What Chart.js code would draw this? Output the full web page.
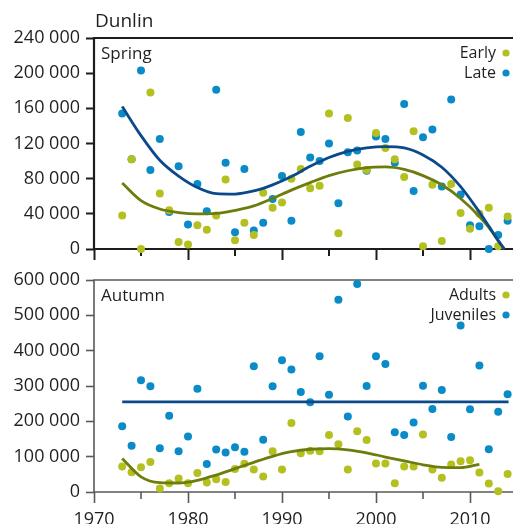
<!DOCTYPE html>
<html>
<head>
<meta charset="utf-8">
<script src="https://cdn.jsdelivr.net/npm/chart.js@4.4.1/dist/chart.umd.min.js"></script>
<style>
  html, body { margin: 0; padding: 0; background: #fff; overflow: hidden; }
  #wrap { position: relative; width: 513px; height: 524px; overflow: hidden; }
  canvas { position: absolute; left: 0; }
  #spring { top: 0; }
  #autumn { top: 262px; }
</style>
</head>
<body>
<div id="wrap">
  <canvas id="spring" width="560" height="269"></canvas>
  <canvas id="autumn" width="560" height="271"></canvas>
</div>
<script>
// survey years
var years = [1973, 1974, 1975, 1976, 1977, 1978, 1979, 1980, 1981, 1982, 1983, 1984, 1985, 1986,
             1987, 1988, 1989, 1990, 1991, 1992, 1993, 1994, 1995, 1996, 1997, 1998, 1999, 2000,
             2001, 2002, 2003, 2004, 2005, 2006, 2007, 2008, 2009, 2010, 2011, 2012, 2013, 2014];

// spring counts
var springEarly = [38000, 102000, 0, 178000, 63000, 44000, 8000, 5000, 27000, 22000, 38000, 79000, 10000, 30000,
                   16000, 64000, 47000, 53000, 80000, 91000, 69000, 72000, 154000, 18000, 149000, 96000, 90000, 132000,
                   115000, 102000, 82000, 134000, 3000, 73000, 9000, 74000, 41000, 23000, 40000, 47000, 3000, 37000];
var springLate = [154000, 102000, 203000, 90000, 125000, 42000, 94000, 28000, 74000, 43000, 181000, 98000, 19000, 91000,
                  21000, 30000, 57000, 83000, 32000, 133000, 104000, 100000, 120000, 52000, 110000, 112000, 89000, 128000,
                  125000, 98000, 165000, 66000, 127000, 136000, 71000, 170000, 62000, 27000, 26000, 0, 16000, 32000];

// autumn counts
var autumnAdults = [72000, 56000, 70000, 85000, 10000, 25000, 38000, 25000, 54000, 27000, 36000, 28000, 65000, 80000,
                    64000, 44000, 115000, 64000, 195000, 110000, 117000, 115000, 161000, 135000, 64000, 172000, 147000, 81000,
                    81000, 25000, 72000, 72000, 163000, 64000, 40000, 78000, 87000, 90000, 55000, 24000, 2000, 51000];
var autumnJuveniles = [186000, 131000, 316000, 299000, 124000, 216000, 115000, 157000, 292000, 79000, 120000, 112000, 127000, 114000,
                       356000, 148000, 299000, 373000, 347000, 283000, 254000, 384000, 275000, 544000, 214000, 589000, 300000, 384000,
                       362000, 169000, 161000, 197000, 301000, 235000, 289000, 156000, 471000, 234000, 358000, 121000, 227000, 277000];

// fitted trends
var springFitYears = [1973, 1975, 1977, 1979, 1981, 1983, 1985, 1987, 1989, 1991, 1993, 1995,
                      1997, 1999, 2001, 2003, 2005, 2007, 2009, 2011, 2012, 2013, 2013.65];
var springLateFit = [162000, 129000, 101000, 83000, 70000, 63000, 62500, 66000, 73000, 82500, 94000, 104000,
                     111000, 115000, 116500, 115000, 107000, 93000, 71000, 42000, 26000, 9500, 0];
var springEarlyFit = [75000, 55000, 45500, 41500, 40000, 40500, 44000, 49000, 57500, 67000, 75500, 83500,
                      89000, 92500, 93300, 90500, 83500, 73000, 57500, 37000, 24500, 9500, 0];
var adultFitYears = [1973, 1975, 1977, 1979, 1981, 1983, 1985, 1987, 1989, 1991, 1993, 1995,
                     1997, 1999, 2001, 2003, 2005, 2007, 2009, 2011];
var adultFit = [95000, 43000, 26500, 25500, 33000, 48000, 66000, 84000, 101000, 114000, 121000, 123000,
                119500, 111000, 99000, 88000, 77000, 69500, 69000, 78500];
var juvenileMeanYears = [1973, 2014.1];
var juvenileMean = [255000, 255000];

var decadeTicks = [1970, 1980, 1990, 2000, 2010];

var ink = '#231f20';
var green = '#b4c01f';
var blue = '#0a8bc7';
var olive = '#6d7d0c';
var navy = '#0b4a8a';

Chart.defaults.font.family = "'Open Sans', sans-serif";
Chart.defaults.font.size = 18;
Chart.defaults.color = ink;

function pairs(xs, ys) {
    return xs.map(function (x, i) { return { x: x, y: ys[i] }; });
}

function spaced(v) {
    return String(v).replace(/\B(?=(\d{3})+(?!\d))/g, ' ');
}

// frame, five-year ticks, panel name and legend
var panelDecor = {
    id: 'panelDecor',
    beforeDatasetsDraw: function (chart, args, o) {
        var ctx = chart.ctx, a = chart.chartArea, x = chart.scales.x;
        ctx.save();
        ctx.strokeStyle = o.frameColor;
        ctx.lineWidth = o.frameWidth;
        ctx.beginPath();
        ctx.moveTo(chart.width, a.top);
        ctx.lineTo(a.left, a.top);
        ctx.lineTo(a.left, a.bottom);
        ctx.lineTo(chart.width, a.bottom);
        ctx.stroke();
        ctx.lineWidth = o.tickWidth;
        for (var yr = 1975; yr < x.max; yr += 10) {
            var px = x.getPixelForValue(yr);
            ctx.beginPath();
            ctx.moveTo(px, a.bottom);
            ctx.lineTo(px, a.bottom + 7);
            ctx.stroke();
        }
        ctx.restore();
    },
    afterDraw: function (chart, args, o) {
        var ctx = chart.ctx, a = chart.chartArea;
        ctx.save();
        ctx.fillStyle = ink;
        ctx.textBaseline = 'middle';
        if (o.title) {
            ctx.font = "19px 'Open Sans', sans-serif";
            ctx.textAlign = 'left';
            ctx.fillText(o.title, 95, 22);
        }
        ctx.font = "17px 'Open Sans', sans-serif";
        ctx.textAlign = 'left';
        ctx.fillText(o.label, a.left + 7, a.top + 16);
        ctx.font = "16px 'Open Sans', sans-serif";
        ctx.textAlign = 'right';
        o.items.forEach(function (it, i) {
            var y = a.top + 15 + i * 20;
            ctx.fillStyle = ink;
            ctx.fillText(it.text, 496, y);
            ctx.fillStyle = it.color;
            ctx.beginPath();
            ctx.arc(506, y, 3.6, 0, Math.PI * 2);
            ctx.fill();
        });
        ctx.restore();
    }
};

function makePanel(id, cfg) {
    return new Chart(document.getElementById(id), {
        type: 'scatter',
        data: { datasets: cfg.datasets },
        plugins: [panelDecor],
        options: {
            responsive: false,
            animation: false,
            clip: false,
            layout: { padding: { top: cfg.padTop, right: 43, bottom: 0, left: 0 } },
            elements: { point: { radius: 4, borderWidth: 0, hoverRadius: 4 } },
            scales: {
                x: {
                    type: 'linear',
                    min: 1970,
                    max: 2015,
                    afterBuildTicks: function (s) { s.ticks = decadeTicks.map(function (v) { return { value: v }; }); },
                    afterFit: function (s) { s.height = cfg.xHeight; },
                    ticks: { display: cfg.xLabels, padding: 6, callback: function (v) { return String(v); } },
                    grid: { drawOnChartArea: false, tickLength: 11, tickColor: cfg.frameColor, tickWidth: cfg.tickWidth },
                    border: { display: false }
                },
                y: {
                    min: 0,
                    max: cfg.yMax,
                    afterFit: function (s) { s.width = 94; },
                    ticks: { stepSize: cfg.yStep, padding: 6, callback: spaced },
                    grid: { drawOnChartArea: false, tickLength: 8, tickColor: cfg.frameColor, tickWidth: cfg.tickWidth },
                    border: { display: false }
                }
            },
            plugins: {
                legend: { display: false },
                tooltip: { enabled: false },
                panelDecor: {
                    title: cfg.title,
                    label: cfg.label,
                    items: cfg.items,
                    frameColor: cfg.frameColor,
                    frameWidth: cfg.frameWidth,
                    tickWidth: cfg.tickWidth
                }
            }
        }
    });
}

function fitLine(data, color) {
    return {
        data: data, showLine: true, borderColor: color, borderWidth: 2.8,
        pointRadius: 0, cubicInterpolationMode: 'monotone', clip: false
    };
}

function dots(data, color) {
    return { data: data, backgroundColor: color, borderColor: color, clip: false };
}

makePanel('spring', {
    title: 'Dunlin',
    label: 'Spring',
    padTop: 38,
    xHeight: 20,
    xLabels: false,
    yMax: 240000,
    yStep: 40000,
    frameColor: '#1d1d1b',
    frameWidth: 2.2,
    tickWidth: 2,
    items: [{ text: 'Early', color: green }, { text: 'Late', color: blue }],
    datasets: [
        fitLine(pairs(springFitYears, springLateFit), navy),
        fitLine(pairs(springFitYears, springEarlyFit), olive),
        dots(pairs(years, springEarly), green),
        dots(pairs(years, springLate), blue)
    ]
});

makePanel('autumn', {
    title: null,
    label: 'Autumn',
    padTop: 18,
    xHeight: 41,
    xLabels: true,
    yMax: 600000,
    yStep: 100000,
    frameColor: '#58595b',
    frameWidth: 1.6,
    tickWidth: 1.6,
    items: [{ text: 'Adults', color: green }, { text: 'Juveniles', color: blue }],
    datasets: [
        fitLine(pairs(juvenileMeanYears, juvenileMean), navy),
        fitLine(pairs(adultFitYears, adultFit), olive),
        dots(pairs(years, autumnAdults), green),
        dots(pairs(years, autumnJuveniles), blue)
    ]
});
</script>
</body>
</html>
